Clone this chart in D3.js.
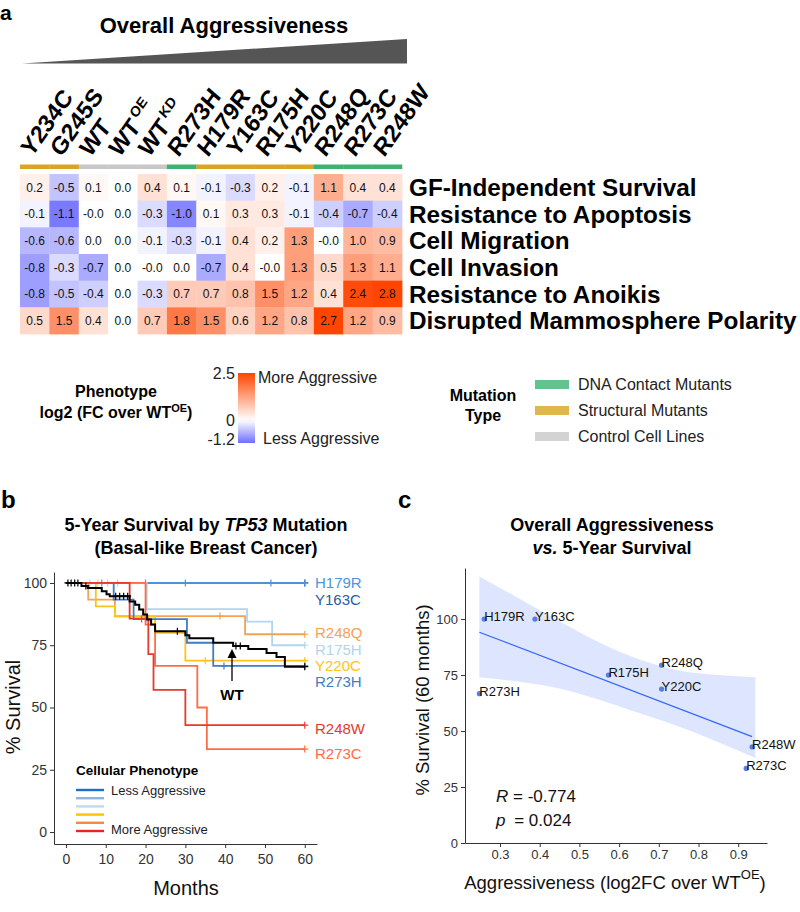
<!DOCTYPE html>
<html>
<head>
<meta charset="utf-8">
<script src="https://cdn.jsdelivr.net/npm/d3@7"></script>
<style>
body { margin: 0; background: #fff; }
svg { display: block; font-family: "Liberation Sans", Arial, Helvetica, sans-serif; }
</style>
</head>
<body>
<svg id="fig" width="800" height="912"></svg>
<script>
// ---------- panel a data ----------
var mutants = ["Y234C", "G245S", "WT", "WT", "WT", "R273H", "H179R", "Y163C", "R175H", "Y220C", "R248Q", "R273C", "R248W"];
var mutantSup = ["", "", "", "OE", "KD", "", "", "", "", "", "", "", ""];
var mutationType = ["Structural", "Structural", "Control", "Control", "Control", "DNA", "Structural", "Structural", "Structural", "Structural", "DNA", "DNA", "DNA"];
var phenotypes = ["GF-Independent Survival", "Resistance to Apoptosis", "Cell Migration", "Cell Invasion", "Resistance to Anoikis", "Disrupted Mammosphere Polarity"];
var gfSurvival = [0.2, -0.5, 0.1, 0.0, 0.4, 0.1, -0.1, -0.3, 0.2, -0.1, 1.1, 0.4, 0.4];
var apoptosis = [-0.1, -1.1, -0, 0.0, -0.3, -1.0, 0.1, 0.3, 0.3, -0.1, -0.4, -0.7, -0.4];
var migration = [-0.6, -0.6, 0.0, 0.0, -0.1, -0.3, -0.1, 0.4, 0.2, 1.3, -0, 1.0, 0.9];
var invasion = [-0.8, -0.3, -0.7, 0.0, -0, 0.0, -0.7, 0.4, -0, 1.3, 0.5, 1.3, 1.1];
var anoikis = [-0.8, -0.5, -0.4, 0.0, -0.3, 0.7, 0.7, 0.8, 1.5, 1.2, 0.4, 2.4, 2.8];
var polarity = [0.5, 1.5, 0.4, 0.0, 0.7, 1.8, 1.5, 0.6, 1.2, 0.8, 2.7, 1.2, 0.9];
var phenoValues = [gfSurvival, apoptosis, migration, invasion, anoikis, polarity];
var colorTicks = [2.5, 0, -1.2];
var typeNames = ["DNA Contact Mutants", "Structural Mutants", "Control Cell Lines"];
var typeKeys = ["DNA", "Structural", "Control"];

// ---------- panel b data (Kaplan-Meier steps) ----------
var kmNames = ["Y163C", "H179R", "R175H", "R248Q", "Y220C", "R273H", "R273C", "R248W", "WT"];
var y163cTimes = [0], y163cSurv = [100], y163cCens = [60];
var h179rTimes = [0], h179rSurv = [100], h179rCens = [9, 20, 30, 51.5, 60];
var r175hTimes = [0, 20.3, 45.5, 51.8], r175hSurv = [100, 89.5, 84.5, 75], r175hCens = [6, 8, 10.5, 13, 60];
var r248qTimes = [0, 5.6, 12.3, 45], r248qSurv = [100, 93.3, 86.7, 79.4], r248qCens = [38.7, 60];
var y220cTimes = [0, 7.5, 12.3, 22.4, 30], y220cSurv = [100, 90.6, 86.5, 80, 68.8], y220cCens = [35, 60];
var r273hTimes = [0, 12, 17, 30.4, 37], r273hSurv = [100, 93.3, 85.5, 76, 66.7], r273hCens = [19, 20, 39.7, 60];
var r273cTimes = [0, 20, 22.4, 33, 35.4], r273cSurv = [100, 83.3, 66.7, 50, 33.3], r273cCens = [60];
var r248wTimes = [0, 16, 20.7, 22, 30], r248wSurv = [100, 85.7, 71.4, 57.1, 42.9], r248wCens = [60];
var wtTimes = [0, 3.9, 5.5, 9, 10.2, 11, 16, 17.4, 18.4, 19.4, 20.4, 21.4, 22.4, 30, 31, 37, 42, 45.8, 50.4, 52.9, 55];
var wtSurv = [100, 98.8, 98, 96.7, 95.5, 94.7, 92.6, 91.3, 89.3, 87.3, 85.3, 83.3, 80.6, 79, 77.8, 76, 74.7, 73.5, 71.9, 70.3, 66.4];
var wtCens = [0.5, 1.3, 2.2, 3, 5, 12.5, 13.5, 14.5, 15.5, 28, 42.7, 43.8, 60];
var phenoLegendColors = ["#1E6FC6", "#8FB2E0", "#C2D8EE", "#FFC000", "#F58A3E", "#E8241E"];

// ---------- panel c data ----------
var survNames = ["H179R", "Y163C", "R248Q", "R175H", "Y220C", "R273H", "R248W", "R273C"];
var aggressiveness = [0.26, 0.388, 0.707, 0.573, 0.707, 0.248, 0.935, 0.92];
var survival60 = [100, 100, 79.4, 75, 68.75, 66.7, 42.9, 33.3];
var bandX = [0.248, 0.35, 0.45, 0.55, 0.65, 0.75, 0.85, 0.943];
var bandHi = [119, 109, 99, 89.5, 82, 77, 75, 74];
var bandLo = [74, 72, 69, 64, 58, 52, 45, 38];

var svg = d3.select("#fig");
var font = "'Liberation Sans', Arial, sans-serif";

function fmt(v) {
	var neg = v < 0 || Object.is(v, -0);
	return (neg ? "-" : "") + Math.abs(v).toFixed(1);
}

/* ================= panel a ================= */
svg.append("text").attr("x", 0).attr("y", 20).attr("font-size", 21).attr("font-weight", "bold").text("a");

svg.append("text")
	.attr("x", 224).attr("y", 33)
	.attr("text-anchor", "middle")
	.attr("font-size", 22).attr("font-weight", "bold")
	.text("Overall Aggressiveness");

svg.append("polygon")
	.attr("points", "22,63.5 407,63.5 407,39")
	.attr("fill", "#555");

var hx = d3.scaleBand().domain(d3.range(mutants.length)).range([20, 402]);
var hy = d3.scaleBand().domain(d3.range(phenotypes.length)).range([174, 334]);
var heat = d3.scaleLinear().domain([-1.2, 0, 2.5]).range(["#6E6EFF", "#FFFFFF", "#FF4500"]).clamp(true);
var typeColor = d3.scaleOrdinal().domain(typeKeys).range(["#3CB371", "#DAA520", "#C8C8C8"]);

// column labels
var colLab = svg.append("g").selectAll("text")
	.data(mutants)
	.enter()
	.append("text")
	.attr("transform", function(d, i) {
		return "translate(" + (hx(i) + hx.bandwidth() / 2 - 3) + ",158) scale(0.9,1) rotate(-52)";
	})
	.attr("font-size", 25)
	.attr("font-weight", "bold");
colLab.append("tspan").text(function(d) { return d; });
colLab.append("tspan")
	.attr("font-size", 15)
	.attr("dx", 3)
	.attr("dy", -10)
	.text(function(d, i) { return mutantSup[i]; });

// annotation bar
svg.append("g").selectAll("rect")
	.data(mutationType)
	.enter()
	.append("rect")
	.attr("x", function(d, i) { return hx(i); })
	.attr("y", 164.5)
	.attr("width", hx.bandwidth() + 0.3)
	.attr("height", 4.5)
	.attr("fill", function(d) { return typeColor(d); });

// cells
var cells = [];
phenoValues.forEach(function(row, r) {
	row.forEach(function(v, c) {
		cells.push({ r: r, c: c, v: v });
	});
});

var cellG = svg.append("g");
cellG.selectAll("rect")
	.data(cells)
	.enter()
	.append("rect")
	.attr("x", function(d) { return hx(d.c); })
	.attr("y", function(d) { return hy(d.r); })
	.attr("width", hx.bandwidth() + 0.4)
	.attr("height", hy.bandwidth() + 0.4)
	.attr("fill", function(d) { return heat(d.v); });

cellG.selectAll("text")
	.data(cells)
	.enter()
	.append("text")
	.attr("x", function(d) { return hx(d.c) + hx.bandwidth() / 2; })
	.attr("y", function(d) { return hy(d.r) + hy.bandwidth() / 2 + 4.3; })
	.attr("text-anchor", "middle")
	.attr("font-size", 12)
	.attr("fill", "#111")
	.text(function(d) { return fmt(d.v); });

svg.append("g").selectAll("text")
	.data(phenotypes)
	.enter()
	.append("text")
	.attr("x", 409)
	.attr("y", function(d, i) { return hy(i) + hy.bandwidth() / 2 + 8.5; })
	.attr("font-size", 24.3)
	.attr("font-weight", "bold")
	.text(function(d) { return d; });

// colour legend
svg.append("text").attr("x", 116).attr("y", 397).attr("text-anchor", "middle")
	.attr("font-size", 16).attr("font-weight", "bold").text("Phenotype");
var lg = svg.append("text").attr("x", 116).attr("y", 418).attr("text-anchor", "middle")
	.attr("font-size", 16).attr("font-weight", "bold");
lg.append("tspan").text("log2 (FC over WT");
lg.append("tspan").attr("font-size", 11).attr("dy", -6).text("OE");
lg.append("tspan").attr("dy", 6).text(")");

var legY = d3.scaleLinear().domain([2.5, -1.2]).range([373, 443]);
var grad = svg.append("defs").append("linearGradient")
	.attr("id", "heatGrad").attr("x1", 0).attr("x2", 0).attr("y1", 0).attr("y2", 1);
d3.range(0, 1.0001, 0.05).forEach(function(t) {
	var v = 2.5 - t * 3.7;
	grad.append("stop").attr("offset", t).attr("stop-color", heat(v));
});
svg.append("rect").attr("x", 238).attr("y", legY(2.5)).attr("width", 17)
	.attr("height", legY(-1.2) - legY(2.5)).attr("fill", "url(#heatGrad)");
svg.append("g").selectAll("text")
	.data(colorTicks)
	.enter()
	.append("text")
	.attr("x", 235)
	.attr("y", function(d) { return Math.min(legY(d) + 6, 445); })
	.attr("text-anchor", "end")
	.attr("font-size", 16)
	.attr("fill", "#222")
	.text(function(d) { return String(d); });
svg.append("text").attr("x", 258).attr("y", 383).attr("font-size", 16).attr("fill", "#222").text("More Aggressive");
svg.append("text").attr("x", 263).attr("y", 444).attr("font-size", 16).attr("fill", "#222").text("Less Aggressive");

// mutation type legend
svg.append("text").attr("x", 483).attr("y", 401).attr("text-anchor", "middle")
	.attr("font-size", 16).attr("font-weight", "bold").text("Mutation");
svg.append("text").attr("x", 483).attr("y", 421).attr("text-anchor", "middle")
	.attr("font-size", 16).attr("font-weight", "bold").text("Type");
var keyY = d3.scaleBand().domain(typeKeys).range([372, 450]);
var keys = svg.append("g").selectAll("g")
	.data(typeKeys)
	.enter()
	.append("g")
	.attr("transform", function(d) { return "translate(0," + keyY(d) + ")"; });
keys.append("rect").attr("x", 535).attr("y", 8).attr("width", 34).attr("height", 9)
	.attr("fill", function(d) { return typeColor(d); }).attr("opacity", 0.8);
keys.append("text").attr("x", 578).attr("y", 18).attr("font-size", 16).attr("fill", "#222")
	.text(function(d, i) { return typeNames[i]; });

/* ================= panel b ================= */
svg.append("text").attr("x", 1).attr("y", 508).attr("font-size", 24).attr("font-weight", "bold").text("b");
var tb = svg.append("text").attr("x", 206).attr("y", 531).attr("text-anchor", "middle")
	.attr("font-size", 18).attr("font-weight", "bold");
tb.append("tspan").text("5-Year Survival by ");
tb.append("tspan").attr("font-style", "italic").text("TP53");
tb.append("tspan").text(" Mutation");
svg.append("text").attr("x", 206).attr("y", 554).attr("text-anchor", "middle")
	.attr("font-size", 18).attr("font-weight", "bold").text("(Basal-like Breast Cancer)");

var bx = d3.scaleLinear().domain([-3, 63.07]).range([54, 317]);
var by = d3.scaleLinear().domain([-4.8, 104.4]).range([844, 572]);

var kmColors = {
	Y163C: "#2A5CA8", H179R: "#4D94DB", R175H: "#B0D5EF", R248Q: "#F7A155",
	Y220C: "#FFC21A", R273H: "#3F7DC6", R273C: "#FF6C47", R248W: "#E53A2C", WT: "#000"
};
var kmData = {
	Y163C: [y163cTimes, y163cSurv, y163cCens], H179R: [h179rTimes, h179rSurv, h179rCens],
	R175H: [r175hTimes, r175hSurv, r175hCens], R248Q: [r248qTimes, r248qSurv, r248qCens],
	Y220C: [y220cTimes, y220cSurv, y220cCens], R273H: [r273hTimes, r273hSurv, r273hCens],
	R273C: [r273cTimes, r273cSurv, r273cCens], R248W: [r248wTimes, r248wSurv, r248wCens],
	WT: [wtTimes, wtSurv, wtCens]
};
// label nudges (px) from the curve end
var labelNudge = { H179R: 0, Y163C: 17, R248Q: -2, R175H: 4, Y220C: 5, R273H: 16, R248W: 3, R273C: 4 };

var stepLine = d3.line()
	.x(function(d) { return bx(d[0]); })
	.y(function(d) { return by(d[1]); })
	.curve(d3.curveStepAfter);

var kmG = svg.append("g");
kmNames.forEach(function(name) {
	var times = kmData[name][0], surv = kmData[name][1], cens = kmData[name][2];
	var pts = times.map(function(t, i) { return [t, surv[i]]; });
	pts.push([60, surv[surv.length - 1]]);
	var col = kmColors[name];
	kmG.append("path")
		.attr("d", stepLine(pts))
		.attr("fill", "none")
		.attr("stroke", col)
		.attr("stroke-width", name == "WT" ? 2 : 1.8);
	cens.forEach(function(t) {
		var s = surv[d3.bisectRight(times, t) - 1];
		kmG.append("path")
			.attr("d", "M" + (bx(t) - 3.5) + "," + by(s) + "h7M" + bx(t) + "," + (by(s) - 3.5) + "v7")
			.attr("stroke", col)
			.attr("stroke-width", 1.2);
	});
	if (name != "WT") {
		svg.append("text")
			.attr("x", 315)
			.attr("y", by(surv[surv.length - 1]) + labelNudge[name] + 5.5)
			.attr("font-size", 15)
			.attr("fill", col)
			.text(name);
	}
});

// axes
var bAxisL = svg.append("g").attr("transform", "translate(54,0)")
	.call(d3.axisLeft(by).tickValues([0, 25, 50, 75, 100]).tickSize(4).tickSizeOuter(0));
var bAxisB = svg.append("g").attr("transform", "translate(0,844)")
	.call(d3.axisBottom(bx).tickValues([0, 10, 20, 30, 40, 50, 60]).tickSize(4).tickSizeOuter(0));
[bAxisL, bAxisB].forEach(function(a) {
	a.selectAll("path,line").attr("stroke", "#333");
	a.selectAll("text").attr("font-size", 14).attr("fill", "#333").attr("font-family", font);
});
bAxisB.selectAll("text").attr("dy", "1em").attr("y", 6);

svg.append("text").attr("transform", "translate(20,707) rotate(-90)").attr("text-anchor", "middle")
	.attr("font-size", 20).attr("fill", "#111").text("% Survival");
svg.append("text").attr("x", 186).attr("y", 895).attr("text-anchor", "middle")
	.attr("font-size", 20).attr("fill", "#111").text("Months");

// WT arrow
svg.append("line").attr("x1", 232).attr("x2", 232).attr("y1", 681).attr("y2", 657)
	.attr("stroke", "#000").attr("stroke-width", 1.3);
svg.append("path").attr("d", "M232,649 L236.5,658 L227.5,658 Z").attr("fill", "#000");
svg.append("text").attr("x", 232).attr("y", 700).attr("text-anchor", "middle")
	.attr("font-size", 15).attr("font-weight", "bold").text("WT");

// phenotype legend
svg.append("text").attr("x", 76).attr("y", 775).attr("font-size", 13.5).attr("font-weight", "bold").text("Cellular Phenotype");
var lgY = d3.scaleLinear().domain([0, 5]).range([790, 831]);
svg.append("g").selectAll("line")
	.data(phenoLegendColors)
	.enter()
	.append("line")
	.attr("x1", 76).attr("x2", 104)
	.attr("y1", function(d, i) { return lgY(i); })
	.attr("y2", function(d, i) { return lgY(i); })
	.attr("stroke", function(d) { return d; })
	.attr("stroke-width", 2.4);
svg.append("text").attr("x", 111).attr("y", 795).attr("font-size", 13).attr("fill", "#222").text("Less Aggressive");
svg.append("text").attr("x", 111).attr("y", 834).attr("font-size", 13).attr("fill", "#222").text("More Aggressive");

/* ================= panel c ================= */
svg.append("text").attr("x", 398).attr("y", 508).attr("font-size", 24).attr("font-weight", "bold").text("c");
svg.append("text").attr("x", 612).attr("y", 531).attr("text-anchor", "middle")
	.attr("font-size", 18).attr("font-weight", "bold").text("Overall Aggressiveness");
var tc = svg.append("text").attr("x", 612).attr("y", 554).attr("text-anchor", "middle")
	.attr("font-size", 18).attr("font-weight", "bold");
tc.append("tspan").attr("font-style", "italic").text("vs.");
tc.append("tspan").text(" 5-Year Survival");

var cx = d3.scaleLinear().domain([0.2118, 0.9725]).range([465, 767]);
var cy = d3.scaleLinear().domain([0, 122.8]).range([843, 568]);

var band = d3.area()
	.x(function(d, i) { return cx(d); })
	.y0(function(d, i) { return cy(bandLo[i]); })
	.y1(function(d, i) { return cy(bandHi[i]); })
	.curve(d3.curveMonotoneX);
svg.append("path").attr("d", band(bandX)).attr("fill", "#3366FF").attr("opacity", 0.16);

// least-squares fit
var mx = d3.mean(aggressiveness), my = d3.mean(survival60);
var sxy = d3.sum(aggressiveness, function(v, i) { return (v - mx) * (survival60[i] - my); });
var sxx = d3.sum(aggressiveness, function(v) { return (v - mx) * (v - mx); });
var slope = sxy / sxx, icpt = my - slope * mx;
var fitX = d3.extent(aggressiveness);
svg.append("line")
	.attr("x1", cx(fitX[0])).attr("y1", cy(icpt + slope * fitX[0]))
	.attr("x2", cx(fitX[1])).attr("y2", cy(icpt + slope * fitX[1]))
	.attr("stroke", "#3366FF").attr("stroke-width", 1.2);

var cAxisL = svg.append("g").attr("transform", "translate(465,0)")
	.call(d3.axisLeft(cy).tickValues([0, 25, 50, 75, 100]).tickSize(4).tickSizeOuter(0));
var cAxisB = svg.append("g").attr("transform", "translate(0,843)")
	.call(d3.axisBottom(cx).tickValues([0.3, 0.4, 0.5, 0.6, 0.7, 0.8, 0.9]).tickSize(4).tickSizeOuter(0)
		.tickFormat(d3.format(".1f")));
[cAxisL, cAxisB].forEach(function(a) {
	a.selectAll("path,line").attr("stroke", "#333");
	a.selectAll("text").attr("font-size", 13).attr("fill", "#333").attr("font-family", font);
});

svg.append("g").selectAll("circle")
	.data(survNames)
	.enter()
	.append("circle")
	.attr("cx", function(d, i) { return cx(aggressiveness[i]); })
	.attr("cy", function(d, i) { return cy(survival60[i]); })
	.attr("r", 2.6)
	.attr("fill", "#5A7DE3");
svg.append("g").selectAll("text")
	.data(survNames)
	.enter()
	.append("text")
	.attr("x", function(d, i) { return cx(aggressiveness[i]); })
	.attr("y", function(d, i) { return cy(survival60[i]) + 2; })
	.attr("font-size", 13)
	.attr("fill", "#111")
	.text(function(d) { return d; });

var rt = svg.append("text").attr("x", 496).attr("y", 802).attr("font-size", 17).attr("fill", "#111");
rt.append("tspan").attr("font-style", "italic").text("R");
rt.append("tspan").text(" = -0.774");
var pt = svg.append("text").attr("x", 496).attr("y", 826).attr("font-size", 17).attr("fill", "#111");
pt.append("tspan").attr("font-style", "italic").text("p");
pt.append("tspan").attr("dx", 4).text(" = 0.024");

svg.append("text").attr("transform", "translate(429,700) rotate(-90)").attr("text-anchor", "middle")
	.attr("font-size", 18.5).attr("fill", "#111").text("% Survival (60 months)");
var xl = svg.append("text").attr("x", 615).attr("y", 889).attr("text-anchor", "middle")
	.attr("font-size", 18.5).attr("fill", "#111");
xl.append("tspan").text("Aggressiveness (log2FC over WT");
xl.append("tspan").attr("font-size", 13).attr("dy", -10).text("OE");
xl.append("tspan").attr("dy", 10).text(")");
</script>
</body>
</html>
